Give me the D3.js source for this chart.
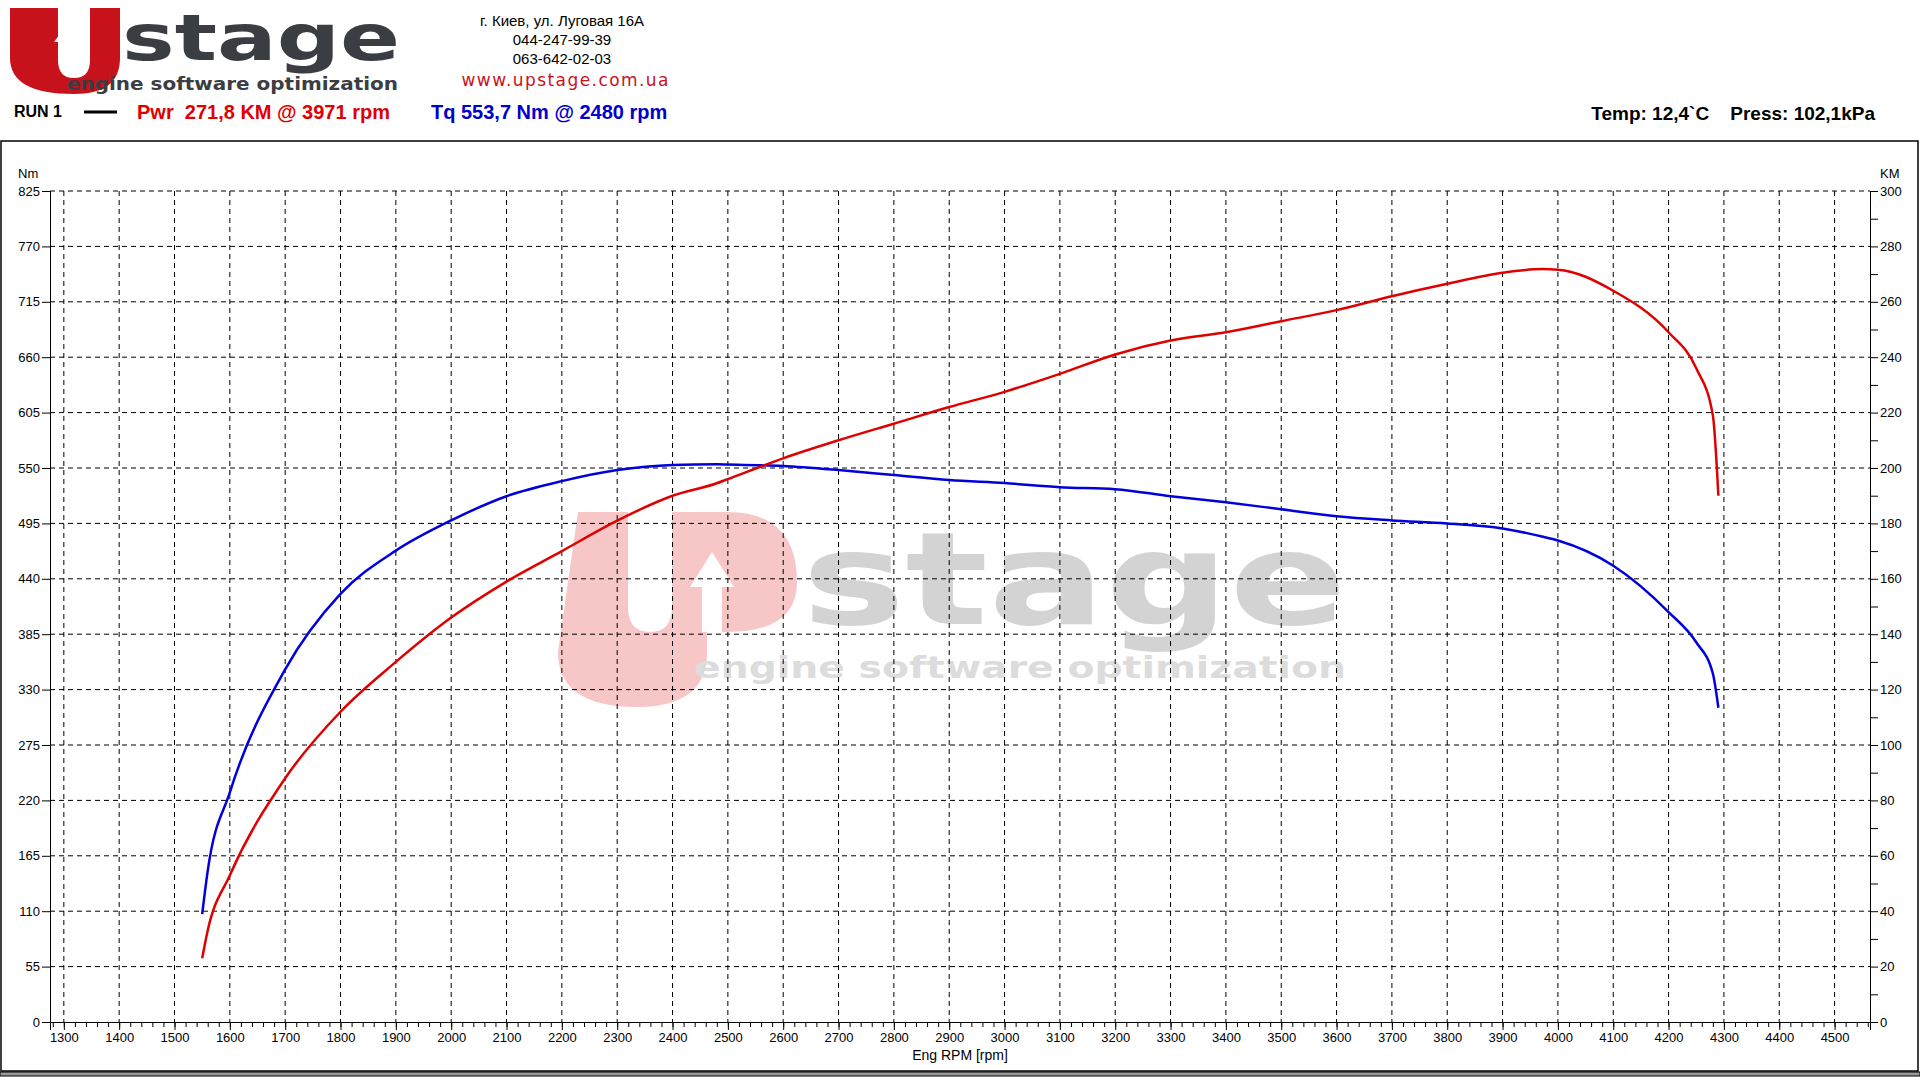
<!DOCTYPE html>
<html><head><meta charset="utf-8">
<script src="https://cdn.jsdelivr.net/npm/d3@7"></script>
<style>body{margin:0;background:#fff}svg{display:block;font-family:Arial,"Liberation Sans",sans-serif}</style>
</head><body>
<script>
// data
const rpm = [1550,1560,1600,1700,1800,1900,2000,2100,2200,2300,2400,2480,2500,2600,2700,2800,2900,3000,3100,3200,3300,3400,3500,3600,3700,3800,3900,3971,4000,4100,4200,4250,4280,4290];
const power = [23,33,53,88,112,130,146,159,170,181,190,194.5,196,203.5,210,216,222,227.5,234,241,246,249,253,257,262,266.5,270.5,271.8,271.6,264,249,236,219,190];
const torque = [107,150,228,350,425,468,498,522,537,548,553,553.7,553.5,552,548,543,538,535,531,529,522,516,509,502,498,495,490,482,478,453,407,377,346,312];
const rpmTicks = d3.range(1300,4501,100);
const nmTicks = d3.range(0,826,55);
const kmTicks = d3.range(0,301,20);

const W=1920,H=1080;
const L=50,R=1870,T=191,B=1022;
const svg=d3.select("body").append("svg").attr("width",W).attr("height",H);

const x=d3.scaleLinear().domain([1275,4564]).range([L,R]);
const yNm=d3.scaleLinear().domain([0,825]).range([B,T]);
const yKm=d3.scaleLinear().domain([0,300]).range([B,T]);

// header logo
svg.append("path").attr("d","M10,8 h48 v52 q0,18 16,18 q16,0 16,-18 v-52 h30 v50 q0,36 -46,36 q-64,0 -64,-36 z").attr("fill","#c8121b");
svg.append("path").attr("d","M64,72 v-30 h-10 l18,-24 l18,24 h-10 v30 z").attr("fill","#fff");
svg.append("text").attr("x",122).attr("y",60).attr("font-size",64).attr("font-weight","bold").attr("fill","#3a3d42").attr("font-family","'DejaVu Sans',sans-serif").attr("textLength",278).attr("lengthAdjust","spacingAndGlyphs").text("stage");
svg.append("text").attr("x",67).attr("y",90).attr("font-size",17).attr("font-weight","bold").attr("fill","#3a3d42").attr("font-family","'DejaVu Sans',sans-serif").attr("textLength",331).attr("lengthAdjust","spacingAndGlyphs").text("engine software optimization");

const addr=["г. Киев, ул. Луговая 16А","044-247-99-39","063-642-02-03"];
addr.forEach((t,i)=>svg.append("text").attr("x",562).attr("y",26+i*19).attr("text-anchor","middle").attr("font-size",15).attr("font-family","'Liberation Sans Narrow',Arial").text(t));
svg.append("text").attr("x",565).attr("y",86).attr("text-anchor","middle").attr("font-size",17).attr("fill","#c8121b").attr("font-family","Verdana,'DejaVu Sans'").attr("textLength",207).text("www.upstage.com.ua");

svg.append("text").attr("x",14).attr("y",117).attr("font-size",16).attr("font-weight","bold").text("RUN 1");
svg.append("line").attr("x1",84).attr("x2",117).attr("y1",112).attr("y2",112).attr("stroke","#000").attr("stroke-width",3);
svg.append("text").attr("x",137).attr("y",119).attr("font-size",20).attr("font-weight","bold").attr("fill","#e00000").attr("xml:space","preserve").text("Pwr  271,8 KM @ 3971 rpm");
svg.append("text").attr("x",431).attr("y",119).attr("font-size",20).attr("font-weight","bold").attr("fill","#0000cc").text("Tq 553,7 Nm @ 2480 rpm");
svg.append("text").attr("x",1875).attr("y",120).attr("text-anchor","end").attr("font-size",19).attr("font-weight","bold").attr("xml:space","preserve").text("Temp: 12,4`C    Press: 102,1kPa");

// frame
svg.append("rect").attr("x",1).attr("y",141).attr("width",1917).attr("height",930).attr("fill","none").attr("stroke","#000").attr("stroke-width",1.5);
svg.append("rect").attr("x",0).attr("y",1072).attr("width",1920).attr("height",4).attr("fill","#999").attr("stroke","#000");

// watermark
const wm=svg.append("g").attr("opacity",0.25);
wm.append("path").attr("d","M578,512 h50 v95 q0,25 22,25 q22,0 22,-25 v-95 h55 q70,0 70,70 q0,50 -70,50 h-20 v20 q0,55 -70,55 q-79,0 -79,-55 z").attr("fill","#e02020");
wm.append("path").attr("d","M702,632 v-45 h-12 l22,-35 l22,35 h-12 v45 z").attr("fill","#fff");
wm.append("text").attr("x",802).attr("y",624).attr("font-size",128).attr("font-weight","bold").attr("fill","#555").attr("font-family","'DejaVu Sans',sans-serif").attr("textLength",545).attr("lengthAdjust","spacingAndGlyphs").text("stage");
wm.append("text").attr("x",694).attr("y",678).attr("font-size",30).attr("font-weight","bold").attr("fill","#777").attr("font-family","'DejaVu Sans',sans-serif").attr("textLength",652).attr("lengthAdjust","spacingAndGlyphs").text("engine software optimization");

// grid
const grid=svg.append("g").attr("stroke","#000").attr("stroke-dasharray","5,4").attr("stroke-width",1);
rpmTicks.forEach(v=>grid.append("line").attr("x1",x(v)).attr("x2",x(v)).attr("y1",T).attr("y2",B));
nmTicks.slice(1).forEach(v=>grid.append("line").attr("x1",L).attr("x2",R).attr("y1",yNm(v)).attr("y2",yNm(v)));

// axes
const gx=svg.append("g").attr("transform",`translate(0,${B})`)
  .call(d3.axisBottom(x).tickValues(d3.range(1280,4561,20)).tickSize(5).tickFormat(""));
gx.append("g").call(d3.axisBottom(x).tickValues(rpmTicks).tickSize(8).tickFormat(d3.format("d")));
const gl=svg.append("g").attr("transform",`translate(${L},0)`).call(d3.axisLeft(yNm).tickValues(nmTicks).tickSize(8).tickFormat(d3.format("d")));
const gr=svg.append("g").attr("transform",`translate(${R},0)`).call(d3.axisRight(yKm).tickValues(d3.range(0,301,10)).tickSize(8).tickFormat(d=>kmTicks.includes(d)?d:""));
svg.selectAll(".tick text").attr("font-size","13px").attr("fill","#000").attr("font-family","Arial");
gl.selectAll(".tick text").attr("x",-10);
gr.selectAll(".tick text").attr("x",10);
svg.selectAll(".domain").attr("stroke","#000");
svg.append("text").attr("x",18).attr("y",178).attr("font-size",13).text("Nm");
svg.append("text").attr("x",1880).attr("y",178).attr("font-size",13).text("KM");
svg.append("text").attr("x",960).attr("y",1060).attr("text-anchor","middle").attr("font-size",14).text("Eng RPM [rpm]");

// curves
const pts=a=>rpm.map((r,i)=>[r,a[i]]);
svg.append("path").datum(pts(torque)).attr("fill","none").attr("stroke","#0000dd").attr("stroke-width",2.5)
  .attr("d",d3.line().x(d=>x(d[0])).y(d=>yNm(d[1])).curve(d3.curveMonotoneX));
svg.append("path").datum(pts(power)).attr("fill","none").attr("stroke","#e00000").attr("stroke-width",2.5)
  .attr("d",d3.line().x(d=>x(d[0])).y(d=>yKm(d[1])).curve(d3.curveMonotoneX));
</script>
</body></html>
